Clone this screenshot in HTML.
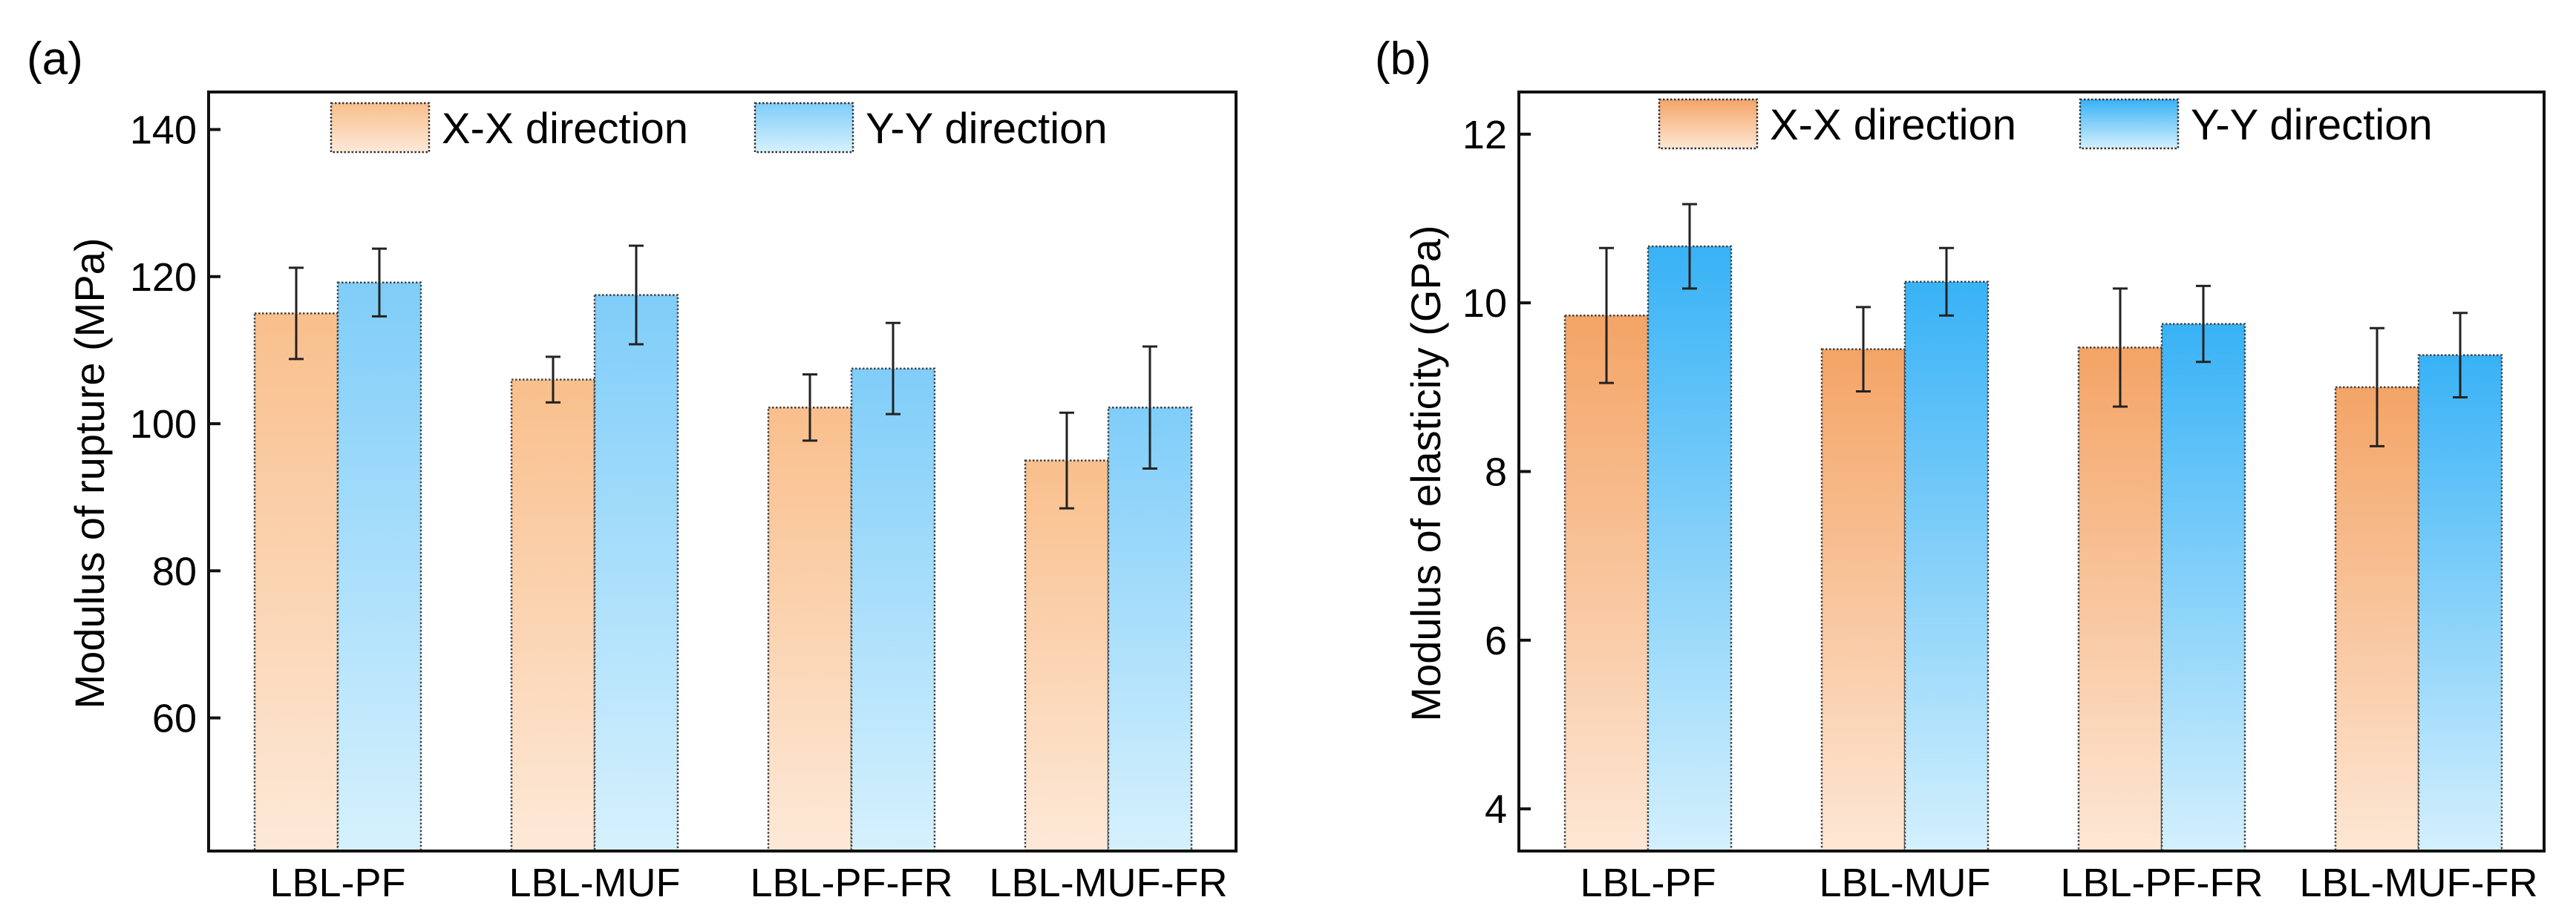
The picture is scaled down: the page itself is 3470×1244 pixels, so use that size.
<!DOCTYPE html>
<html><head><meta charset="utf-8"><style>
html,body{margin:0;padding:0;background:#fff;}
svg{display:block;font-family:"Liberation Sans",Arial,sans-serif;}
</style></head><body>
<svg id="chart" width="3470" height="1244" viewBox="0 0 3470 1244" xmlns="http://www.w3.org/2000/svg">
<defs>
<linearGradient id="oa" x1="0" y1="0" x2="0" y2="1"><stop offset="0" stop-color="#f9bf8c"/><stop offset="1" stop-color="#fde9d8"/></linearGradient>
<linearGradient id="ba" x1="0" y1="0" x2="0" y2="1"><stop offset="0" stop-color="#7fcdf9"/><stop offset="1" stop-color="#d6f1fd"/></linearGradient>
<linearGradient id="ob" x1="0" y1="0" x2="0" y2="1"><stop offset="0" stop-color="#f4a466"/><stop offset="1" stop-color="#fde7d5"/></linearGradient>
<linearGradient id="bb" x1="0" y1="0" x2="0" y2="1"><stop offset="0" stop-color="#38b2f6"/><stop offset="1" stop-color="#d4f0fd"/></linearGradient>
</defs>
</svg>
<script>
const categories = ["LBL-PF","LBL-MUF","LBL-PF-FR","LBL-MUF-FR"];
const seriesNames = ["X-X direction","Y-Y direction"];
const morX = [115, 106, 102.2, 95];
const morY = [119.2, 117.5, 107.5, 102.2];
const morXErr = [6.2, 3.1, 4.5, 6.5];
const morYErr = [4.6, 6.7, 6.2, 8.3];
const morTicks = [60, 80, 100, 120, 140];
const moeX = [9.85, 9.45, 9.47, 9.0];
const moeY = [10.67, 10.25, 9.75, 9.38];
const moeXErr = [0.8, 0.5, 0.7, 0.7];
const moeYErr = [0.5, 0.4, 0.45, 0.5];
const moeTicks = [4, 6, 8, 10, 12];

const NS = "http://www.w3.org/2000/svg";
const svg = document.getElementById("chart");
function mk(tag, attrs, parent, text){
  const e = document.createElementNS(NS, tag);
  for (const k in attrs) e.setAttribute(k, attrs[k]);
  if (text !== undefined) e.textContent = text;
  (parent || svg).appendChild(e);
  return e;
}

function panel(p){
  const g = mk("g", {});
  
  
  const L=p.left, R=p.right, T=124, B=1147;
  const y = v => B - (v - p.ymin) / (p.ymax - p.ymin) * (B - T);
  const bw = 112, step = 346, first = L + 62;
  // bars
  for (let i=0;i<categories.length;i++){
    const gx = first + i*step;
    const vals = [p.xs[i], p.ys[i]], errs=[p.xe[i], p.ye[i]], fills=[p.of, p.bf];
    for (let s=0;s<2;s++){
      const x0 = gx + s*bw, yv = y(vals[s]);
      const r = mk("rect", {x:x0, y:yv, width:bw, height:B-yv, fill:"url(#"+fills[s]+")", stroke:"#444", "stroke-width":2.5, "stroke-dasharray":"2.5 2.5"}, g);
      
      
      const cx = x0 + bw/2, yt=y(vals[s]+errs[s]), yb=y(vals[s]-errs[s]);
      const eb = mk("path", {d:`M${cx},${yt}V${yb}M${cx-10},${yt}H${cx+10}M${cx-10},${yb}H${cx+10}`, stroke:"#222", "stroke-width":3, fill:"none"}, g);
      
      
    }
    const t = mk("text", {x:gx+bw, y:1208, "font-size":54, "text-anchor":"middle"}, g, categories[i]);
    
    
  }
  // frame
  const fr = mk("rect", {x:L, y:T, width:R-L, height:B-T, fill:"none", stroke:"#111", "stroke-width":4}, g);
  
  
  // ticks
  for (const tv of p.ticks){
    const ty = y(tv);
    const tk = mk("line", {x1:L, x2:L+16, y1:ty, y2:ty, stroke:"#111", "stroke-width":4}, g);
    
    
    const tl = mk("text", {x:L-16, y:ty+19, "font-size":54, "text-anchor":"end"}, g, String(tv));
    
    
  }
  const at = mk("text", {x:0, y:0, "font-size":56, "text-anchor":"middle", transform:`translate(${p.titleX},638) rotate(-90)`}, g, p.title);
  
  
  const pl = mk("text", {x:p.labelX, y:100, "font-size":62}, g, p.label);
  
  
  // legend
  const lx=[p.lg1, p.lg2], lf=[p.of,p.bf];
  for (let s=0;s<2;s++){
    const lr = mk("rect", {x:lx[s], y:p.lgy, width:132, height:66, fill:"url(#"+lf[s]+")", stroke:"#333", "stroke-width":2.5, "stroke-dasharray":"2.5 2.5"}, g);
    
    
    const lt = mk("text", {x:lx[s]+149, y:p.lgy+54, "font-size":58}, g, seriesNames[s]);
    
    
  }
}

panel({id:"mor", left:281, right:1665, ymin:41.9, ymax:145.1, xs:morX, ys:morY, xe:morXErr, ye:morYErr, ticks:morTicks, of:"oa", bf:"ba", title:"Modulus of rupture (MPa)", titleX:140, label:"(a)", labelX:36, lg1:446, lg2:1017, lgy:139});
panel({id:"moe", left:2046, right:3427, ymin:3.5, ymax:12.5, xs:moeX, ys:moeY, xe:moeXErr, ye:moeYErr, ticks:moeTicks, of:"ob", bf:"bb", title:"Modulus of elasticity (GPa)", titleX:1940, label:"(b)", labelX:1852, lg1:2235, lg2:2802, lgy:134});
</script>
</body></html>
